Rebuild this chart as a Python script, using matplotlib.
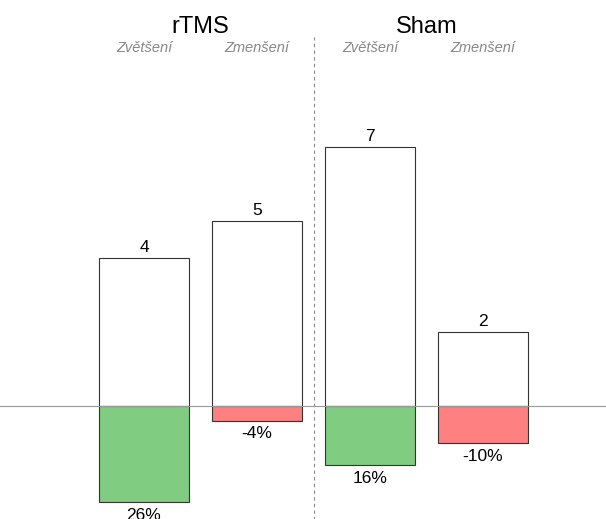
import numpy as np
import matplotlib.pyplot as plt

plt.rcParams['font.family'] = ['Liberation Sans', 'DejaVu Sans']

groups = ["rTMS", "Sham"]
subs = ["Zvětšení", "Zmenšení", "Zvětšení", "Zmenšení"]
counts = [4, 5, 7, 2]
pcts = [26, -4, 16, -10]
pct_colors = ["#80cc80", "#ff8080", "#80cc80", "#ff8080"]

scale = 0.1  # percentage -> count units

fig = plt.figure(figsize=(6.06, 5.19), dpi=100)
ax = fig.add_axes([0, 0, 1, 1])
ax.set_xlim(-1.274, 4.088)
ax.set_ylim(-3.054, 10.97)
ax.axis("off")

x = np.arange(len(counts))
ax.bar(x, counts, width=0.8, color="white", edgecolor="#333333", linewidth=0.8, zorder=2)
h = -np.abs(np.array(pcts)) * scale
ax.bar(x, h, width=0.8, color=pct_colors, edgecolor="#333333", linewidth=0.8, zorder=2)

ax.axhline(0, color="#999999", linewidth=0.8, zorder=3)
ax.plot([1.5, 1.5], [-3.1, 9.98], color="#888888", linestyle=(0, (3, 3)), linewidth=0.8)

for i in range(len(counts)):
    ax.text(x[i], counts[i] + 0.08, str(counts[i]), ha="center", va="bottom", fontsize=12.5)
    ax.text(x[i], h[i] - 0.15, "%d%%" % pcts[i], ha="center", va="top", fontsize=12.5)
    ax.text(x[i], 9.68, subs[i], ha="center", va="center", fontsize=10.5,
            style="italic", color="#888888")

for g, name in enumerate(groups):
    ax.text(2 * g + 0.5, 10.24, name, ha="center", va="center", fontsize=17)

fig.savefig("out.png", dpi=100)
